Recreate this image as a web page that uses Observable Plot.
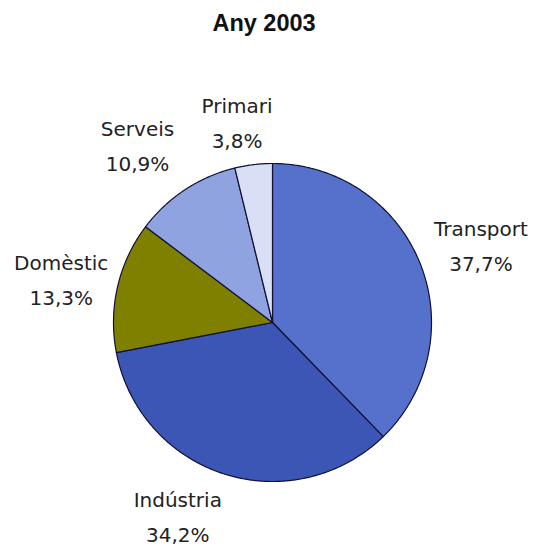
<!DOCTYPE html>
<html>
<head>
<meta charset="utf-8">
<script src="https://cdn.jsdelivr.net/npm/d3@7"></script>
<script src="https://cdn.jsdelivr.net/npm/@observablehq/plot@0.6"></script>
<style>
  html, body { margin: 0; padding: 0; background: #ffffff; }
  #chart { width: 535px; height: 549px; }
</style>
</head>
<body>
<div id="chart"></div>
<script>
// ---- data ----
const title = "Any 2003";
const categories = ["Transport", "Indústria", "Domèstic", "Serveis", "Primari"];
const values = [37.7, 34.2, 13.3, 10.9, 3.8];
const valueLabels = ["37,7%", "34,2%", "13,3%", "10,9%", "3,8%"];
const colors = ["#5571cc", "#3b56b5", "#7f7f00", "#8fa3e0", "#d9dff5"];

// ---- layout ----
const W = 535, H = 549;
const CX = 272, CY = 322, R = 159;           // pie centre and radius (px)
const labelFont = 20, labelFamily = "DejaVu Sans";
const labelGap = 178;                          // px from centre to label anchor
const labelHalfH = 26;
// small pixel adjustments of label placement (dx right, dy up)
const labelNudge = {
  "Transport": [0, 4],
  "Indústria": [-28, 4],
  "Domèstic": [8, 0],
  "Serveis": [-17, 10],
  "Primari": [-10, 1]
};

const ctx = document.createElement("canvas").getContext("2d");
ctx.font = `${labelFont}px "${labelFamily}"`;

const rows = categories.map((c, i) => ({category: c, value: values[i], label: valueLabels[i]}));
const arcs = d3.pie().sort(null).value(d => d.value)(rows);

// slice outlines in unit (radius = 1) coordinates, y up
const slicePts = [];
for (const a of arcs) {
  const cat = a.data.category;
  slicePts.push({category: cat, x: 0, y: 0});
  const n = Math.max(2, Math.ceil((a.endAngle - a.startAngle) / (Math.PI / 360)));
  for (let k = 0; k <= n; k++) {
    const t = a.startAngle + (a.endAngle - a.startAngle) * k / n;
    slicePts.push({category: cat, x: Math.sin(t), y: Math.cos(t)});
  }
  slicePts.push({category: cat, x: 0, y: 0});
}

// label positions (unit coordinates)
const labelRows = arcs.map(a => {
  const mid = (a.startAngle + a.endAngle) / 2;
  const s = Math.sin(mid), c = Math.cos(mid);
  const w = Math.max(ctx.measureText(a.data.category).width, ctx.measureText(a.data.label).width);
  const [ndx, ndy] = labelNudge[a.data.category] || [0, 0];
  const px = (labelGap + w / 2) * s + ndx;
  const py = (labelGap + labelHalfH) * c + ndy;
  return {text: a.data.category + "\n" + a.data.label, x: px / R, y: py / R};
});

const plot = Plot.plot({
  width: W,
  height: H,
  margin: 0,
  x: {domain: [-CX / R, (W - CX) / R], axis: null},
  y: {domain: [-(H - CY) / R, CY / R], axis: null},
  color: {domain: categories, range: colors},
  style: {background: "#ffffff"},
  marks: [
    Plot.line(slicePts, {
      x: "x", y: "y", z: "category",
      fill: "category",
      stroke: "#111133",
      strokeWidth: 1.2,
      strokeLinejoin: "round",
      curve: "linear"
    }),
    Plot.text(labelRows, {
      x: "x", y: "y", text: "text",
      fontSize: labelFont,
      fontFamily: labelFamily,
      lineHeight: 1.75,
      lineAnchor: "middle",
      textAnchor: "middle",
      fill: "#222222"
    }),
    Plot.text([title], {
      frameAnchor: "top",
      dy: 23,
      dx: -4,
      lineAnchor: "middle",
      fontSize: 23.5,
      fontWeight: "bold",
      fontFamily: "Liberation Sans",
      fill: "#111111"
    })
  ]
});

document.getElementById("chart").appendChild(plot);
</script>
</body>
</html>
